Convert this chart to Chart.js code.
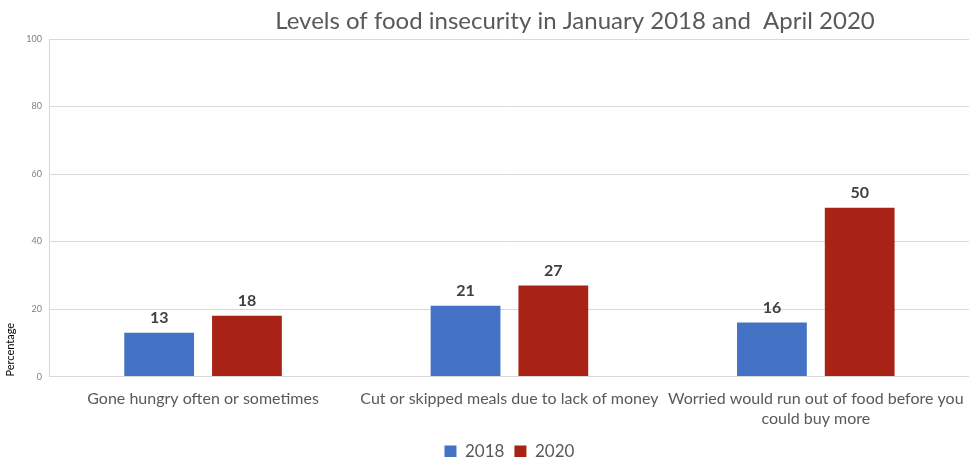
<!DOCTYPE html>
<html>
<head>
<meta charset="utf-8">
<script src="https://cdn.jsdelivr.net/npm/chart.js@4"></script>
<style>
  html, body { margin: 0; padding: 0; background: #fff; }
  #wrap { width: 969px; height: 457px; }
</style>
</head>
<body>
<div id="wrap"><canvas id="foodChart" width="969" height="457"></canvas></div>
<script>
// chart data
const categories = [
    'Gone hungry often or sometimes',
    'Cut or skipped meals due to lack of money',
    ['Worried would run out of food before you', 'could buy more']
];
const values2018 = [13, 21, 16];
const values2020 = [18, 27, 50];
const seriesNames = ['2018', '2020'];
const chartTitle = 'Levels of food insecurity in January 2018 and  April 2020';

const FONT = 'Lato, "Open Sans", sans-serif';

// value labels above each bar
const barLabels = {
    id: 'barLabels',
    afterDatasetsDraw(chart) {
        const ctx = chart.ctx;
        ctx.save();
        ctx.font = 'bold 16px ' + FONT;
        ctx.fillStyle = '#404040';
        ctx.textAlign = 'center';
        ctx.textBaseline = 'bottom';
        chart.data.datasets.forEach((ds, i) => {
            chart.getDatasetMeta(i).data.forEach((bar, j) => {
                ctx.fillText(ds.data[j], bar.x, bar.y - 7);
            });
        });
        ctx.restore();
    }
};

// title sits a bit right of centre in the original
const offsetTitle = {
    id: 'offsetTitle',
    afterDraw(chart) {
        const ctx = chart.ctx;
        ctx.save();
        ctx.font = '24px ' + FONT;
        ctx.fillStyle = '#595959';
        ctx.textAlign = 'center';
        ctx.textBaseline = 'middle';
        ctx.fillText(chartTitle, 575, 21);
        ctx.restore();
    }
};

const ctx = document.getElementById('foodChart').getContext('2d');
const foodChart = new Chart(ctx, {
    type: 'bar',
    data: {
        labels: categories,
        datasets: [{
            label: seriesNames[0],
            data: values2018,
            backgroundColor: '#4472C4',
            categoryPercentage: 0.573,
            barPercentage: 0.795
        }, {
            label: seriesNames[1],
            data: values2020,
            backgroundColor: '#A82216',
            categoryPercentage: 0.573,
            barPercentage: 0.795
        }]
    },
    options: {
        responsive: false,
        animation: false,
        layout: {
            padding: { top: 39, right: 0, left: 0, bottom: -13 }
        },
        scales: {
            x: {
                grid: { display: false },
                border: { color: '#d9d9d9', width: 1 },
                ticks: {
                    color: '#595959',
                    font: { family: FONT, size: 16 },
                    maxRotation: 0,
                    autoSkip: false,
                    padding: 5
                }
            },
            y: {
                min: 0,
                max: 100,
                ticks: {
                    stepSize: 20,
                    color: '#7f7f7f',
                    font: { family: FONT, size: 9 },
                    padding: 8
                },
                grid: { color: '#d9d9d9', drawTicks: false },
                border: { color: '#d9d9d9', width: 1 },
                title: {
                    display: true,
                    text: 'Percentage',
                    align: 'start',
                    color: '#000',
                    font: { family: FONT, size: 11 },
                    padding: { top: 4, bottom: 1 }
                }
            }
        },
        plugins: {
            legend: {
                position: 'bottom',
                fullSize: false,
                labels: {
                    boxWidth: 12,
                    boxHeight: 12,
                    color: '#595959',
                    font: { family: FONT, size: 17 },
                    padding: 10
                }
            },
            tooltip: { enabled: false }
        }
    },
    plugins: [barLabels, offsetTitle]
});
</script>
</body>
</html>
